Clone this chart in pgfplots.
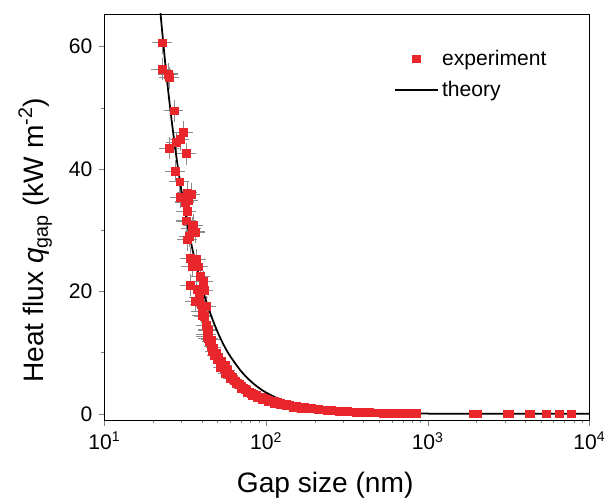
\documentclass[border=0pt]{standalone}
\usepackage{fontspec}
\setmainfont{Liberation Sans}
\usepackage{pgfplots}
\pgfplotsset{compat=1.18}
\definecolor{expred}{HTML}{E8262B}
\definecolor{errgray}{HTML}{8C8C8C}
\pgfplotsset{
  longline legend/.style={legend image code/.code={\draw[##1] (0cm,0cm) -- (0.86cm,0cm);}},
  longmark legend/.style={legend image code/.code={%
    \draw[mark repeat=2,mark phase=2,##1] plot coordinates {(0cm,0cm)(0.43cm,0cm)(0.86cm,0cm)};}},
}

% experiment, high-flux points (error bars visible)
\pgfplotstableread{
d q
22.9 60.6
22.7 56.3
24.9 55.5
25.3 54.9
27.0 49.5
30.8 46.0
29.4 44.8
27.8 44.3
25.2 43.4
32.1 42.5
27.5 39.6
29.2 37.9
29.4 35.4
32.7 36.1
34.3 35.9
33.1 34.9
32.4 33.1
31.6 34.6
32.1 31.5
35.6 30.8
36.5 29.7
33.6 29.0
34.8 30.3
32.7 28.4
34.0 25.4
37.3 25.2
34.8 24.1
38.1 24.0
39.2 22.4
34.0 21.0
41.0 21.6
37.3 20.3
41.4 20.2
38.5 19.0
36.5 18.4
39.5 17.8
42.7 17.5
40.1 16.7
40.5 16.0
41.4 15.9
42.7 14.5
44.0 13.7
43.0 13.0
42.9 12.6
44.0 12.3
45.7 12.1
}\exphigh

% experiment, dense band at larger gaps
\pgfplotstableread{
d q
44.5 11.8
46.0 11.0
46.5 10.2
47.5 10.8
48.0 9.6
49.0 9.9
50.0 8.9
51.0 9.2
52.0 8.2
52.0 7.6
53.0 8.6
54.0 7.8
55.0 7.4
56.0 7.9
56.0 6.6
57.0 6.9
58.0 7.1
59.0 6.5
60.0 5.8
60.5 6.2
62.0 6.0
63.0 5.5
64.5 5.4
65.0 4.9
66.0 5.0
68.0 4.8
70.0 4.5
70.0 4.2
72.0 4.2
74.0 4.0
76.0 3.8
76.0 3.5
78.5 3.6
81.0 3.4
82.0 3.0
84.0 3.2
87.0 3.0
88.0 2.6
90.0 2.8
93.0 2.7
95.0 2.3
96.0 2.55
100 2.4
103 2.0
104 2.25
108 2.1
112 2.0
112 1.75
117 1.85
122 1.75
122 1.5
128 1.6
134 1.5
134 1.3
140 1.42
147 1.32
148 1.1
155 1.22
163 1.12
165 0.95
172 1.02
181 0.95
185 0.8
190 0.88
200 0.8
210 0.65
212 0.74
225 0.67
238 0.6
240 0.5
252 0.55
267 0.5
283 0.45
300 0.4
320 0.36
340 0.32
362 0.28
385 0.25
410 0.22
437 0.2
465 0.18
495 0.16
527 0.14
560 0.12
596 0.1
635 0.09
676 0.08
720 0.07
765 0.06
810 0.05
850 0.04
1900 0.0
1960 0.0
2040 0.0
3100 0.0
3180 0.0
4220 0.0
4320 0.0
5400 0.0
6500 0.0
7700 0.0
}\expband

\pgfplotstableread{
d q
22.0 66.5
24 56.1
26 48.0
28 41.5
30 36.3
33 30.2
36 25.4
40 20.7
45 16.5
50 13.4
55 11.1
60 9.40
70 6.96
80 5.37
90 4.26
100 3.47
120 2.43
150 1.57
200 0.90
300 0.41
500 0.15
1000 0.04
2000 0.01
5000 0.0
10000 0.0
}\theory

\begin{document}
\begin{tikzpicture}
\begin{semilogxaxis}[
    scale only axis,
    width=97mm, height=81.2mm,
    xmin=10, xmax=10000, ymin=-1, ymax=65.3,
    xtick={10,100,1000,10000},
    xticklabels={10\textsuperscript{1},10\textsuperscript{2},10\textsuperscript{3},10\textsuperscript{4}},
    ytick={0,20,40,60}, minor ytick={10,30,50},
    xtick pos=bottom, ytick pos=left, tick align=outside,
    major tick length=1.2mm, minor tick length=0.7mm,
    /pgf/number format/assume math mode=true,
    tick label style={font=\fontsize{12}{14}\selectfont},
    xlabel={Gap size (nm)},
    ylabel={Heat flux \textit{q}\textsubscript{gap} (kW m\textsuperscript{-2})},
    label style={font=\fontsize{16}{19}\selectfont},
    xlabel style={at={(axis description cs:0.455,-0.16)}, anchor=center},
    ylabel style={at={(axis description cs:-0.143,0.443)}, anchor=center},
    legend style={draw=none, fill=none, at={(0.585,0.93)}, anchor=north west,
        font=\fontsize{12}{14}\selectfont, row sep=1.2mm},
    legend cell align=left,
]
\addplot[only marks, mark=square*, mark size=2.2pt, color=expred, longmark legend,
    error bars/.cd, x dir=both, x fixed relative=0.14, y dir=both, y fixed=1.8,
    error mark=none, error bar style={errgray, line width=0.6pt}]
    table {\exphigh};
\addlegendentry{experiment}
\addplot[only marks, mark=square*, mark size=2.2pt, color=expred, forget plot,
    error bars/.cd, x dir=both, x fixed relative=0.1, y dir=both, y fixed=0.6,
    error mark=none, error bar style={errgray, line width=0.6pt}]
    table {\expband};
\addplot[black, line width=1pt, smooth, longline legend]
    table {\theory};
\addlegendentry{theory}
\end{semilogxaxis}
\pgfresetboundingbox
\path[use as bounding box] ([xshift=-20.9mm,yshift=-16mm]current axis.south west)
    rectangle ([xshift=4.1mm,yshift=2.8mm]current axis.north east);
\end{tikzpicture}
\end{document}
